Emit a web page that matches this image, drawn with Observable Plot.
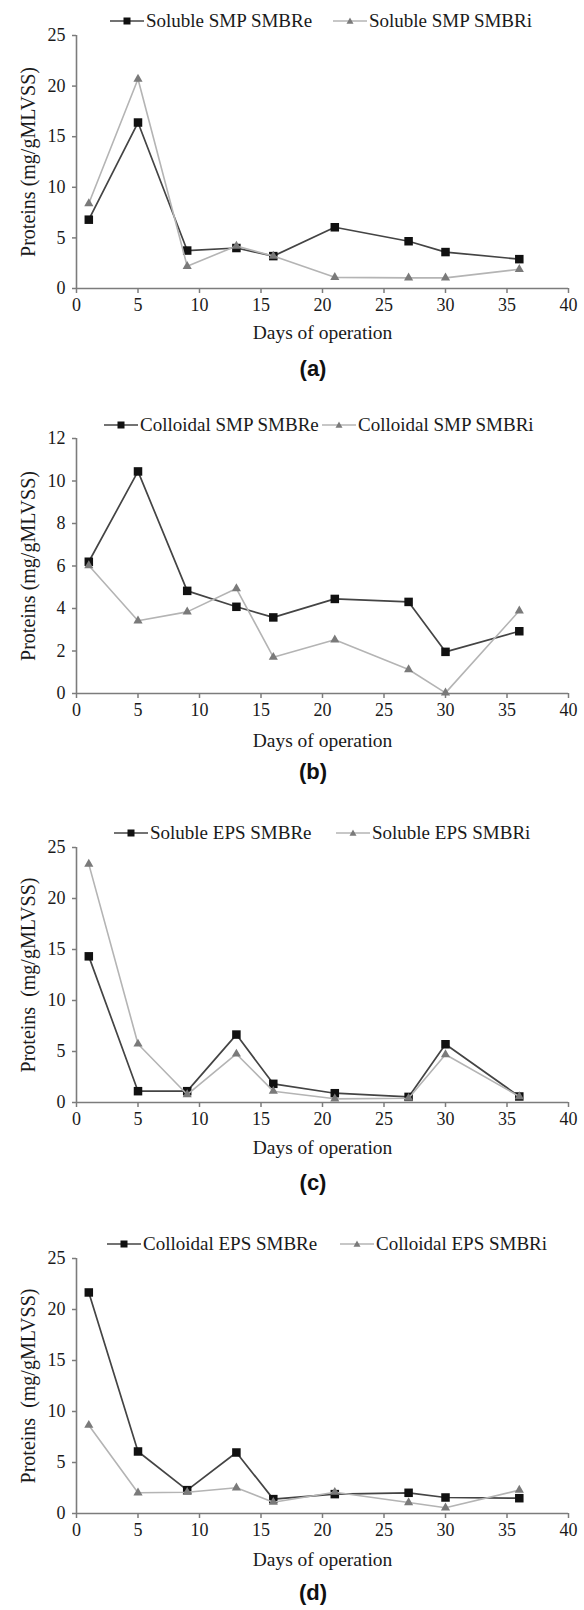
<!DOCTYPE html>
<html><head><meta charset="utf-8">
<script src="https://cdn.jsdelivr.net/npm/d3@7"></script>
<script src="https://cdn.jsdelivr.net/npm/@observablehq/plot@0.6"></script>
<style>
body{margin:0;background:#fff;}
#root{position:relative;width:584px;height:1610px;overflow:hidden;font-family:"Liberation Serif",serif;}
.plotbox{position:absolute;left:0;}
.legend-item{position:absolute;display:flex;align-items:center;font-size:19px;color:#1a1a1a;white-space:nowrap;height:24px;transform:translateY(-50%);}
.legend-item span{margin-left:2px;}
.cap{position:absolute;font-family:"Liberation Sans",Arial,sans-serif;font-weight:bold;font-size:22px;color:#111;transform:translate(-50%,-50%);white-space:nowrap;}
</style></head><body><div id="root"></div>
<script>
// ---- data ----
const days = [1, 5, 9, 13, 16, 21, 27, 30, 36];
const xTicks = [0, 5, 10, 15, 20, 25, 30, 35, 40];

const solubleSMP_SMBRe = [6.8, 16.4, 3.75, 4.0, 3.2, 6.05, 4.67, 3.6, 2.9];
const solubleSMP_SMBRi = [8.4, 20.7, 2.2, 4.2, 3.2, 1.1, 1.05, 1.05, 1.9];
const colloidalSMP_SMBRe = [6.2, 10.45, 4.83, 4.08, 3.58, 4.45, 4.31, 1.96, 2.93];
const colloidalSMP_SMBRi = [6.02, 3.42, 3.84, 4.94, 1.71, 2.53, 1.13, 0.03, 3.89];
const solubleEPS_SMBRe = [14.33, 1.11, 1.11, 6.66, 1.83, 0.91, 0.55, 5.71, 0.59];
const solubleEPS_SMBRi = [23.37, 5.74, 0.78, 4.76, 1.11, 0.36, 0.42, 4.7, 0.59];
const colloidalEPS_SMBRe = [21.67, 6.08, 2.29, 5.98, 1.41, 1.9, 2.03, 1.57, 1.5];
const colloidalEPS_SMBRi = [8.66, 2.03, 2.09, 2.52, 1.11, 2.09, 1.08, 0.56, 2.29];

const yTicks25 = [0, 5, 10, 15, 20, 25];
const yTicks12 = [0, 2, 4, 6, 8, 10, 12];

const panelNames = ["Soluble SMP", "Colloidal SMP", "Soluble EPS", "Colloidal EPS"];
const panelLetters = ["(a)", "(b)", "(c)", "(d)"];
const yLabels = ["Proteins (mg/gMLVSS)", "Proteins (mg/gMLVSS)", "Proteins\u00a0 (mg/gMLVSS)", "Proteins\u00a0 (mg/gMLVSS)"];

// ---- layout (pixels) ----
const layout = [
  {e: solubleSMP_SMBRe, i: solubleSMP_SMBRi, ymax: 25, yt: yTicks25, yTop: 35, yBottom: 288, legY: 21, leg1: 110, leg2: 333, xlo: 50, capY: 369},
  {e: colloidalSMP_SMBRe, i: colloidalSMP_SMBRi, ymax: 12, yt: yTicks12, yTop: 438, yBottom: 693, legY: 425, leg1: 104, leg2: 322, xlo: 53, capY: 772},
  {e: solubleEPS_SMBRe, i: solubleEPS_SMBRi, ymax: 25, yt: yTicks25, yTop: 847, yBottom: 1102, legY: 833, leg1: 114, leg2: 336, xlo: 51, capY: 1183},
  {e: colloidalEPS_SMBRe, i: colloidalEPS_SMBRi, ymax: 25, yt: yTicks25, yTop: 1258, yBottom: 1513, legY: 1244, leg1: 107, leg2: 340, xlo: 52, capY: 1593}
];

const root = document.getElementById("root");
const serif = "Liberation Serif";
const axisGray = "#7c7c7c";
const colE = "#444444", dotE = "#111111";
const colI = "#b4b4b4", dotI = "#7a7a7a";

function swatch(kind) {
  const ns = "http://www.w3.org/2000/svg";
  const s = document.createElementNS(ns, "svg");
  s.setAttribute("width", 34); s.setAttribute("height", 14);
  const l = document.createElementNS(ns, "line");
  l.setAttribute("x1", 0); l.setAttribute("x2", 34); l.setAttribute("y1", 7); l.setAttribute("y2", 7);
  l.setAttribute("stroke", kind === "e" ? colE : colI); l.setAttribute("stroke-width", 1.7);
  s.appendChild(l);
  if (kind === "e") {
    const r = document.createElementNS(ns, "rect");
    r.setAttribute("x", 13.5); r.setAttribute("y", 3.5); r.setAttribute("width", 7); r.setAttribute("height", 7);
    r.setAttribute("fill", dotE); s.appendChild(r);
  } else {
    const p = document.createElementNS(ns, "path");
    p.setAttribute("d", "M17,3.5 L20.5,9.8 L13.5,9.8 Z");
    p.setAttribute("fill", dotI); s.appendChild(p);
  }
  return s;
}

layout.forEach((cfg, k) => {
  const data = days.map((d, j) => ({day: d, e: cfg.e[j], i: cfg.i[j]}));
  const mt = 10, mb = 80;
  const h = (cfg.yBottom - cfg.yTop) + mt + mb;
  const chart = Plot.plot({
    width: 584, height: h,
    marginTop: mt, marginBottom: mb, marginLeft: 76, marginRight: 16,
    style: {fontFamily: serif, fontSize: "18px", color: "#222", background: "transparent", overflow: "visible"},
    x: {domain: [0, 40]},
    y: {domain: [0, cfg.ymax]},
    marks: [
      Plot.axisX(xTicks, {tickSize: 5, tickPadding: 5, stroke: axisGray, strokeWidth: 1.5, fill: "#1a1a1a", fontSize: 18, fontFamily: serif,
        label: "Days of operation", labelAnchor: "center", labelOffset: cfg.xlo, labelArrow: "none"}),
      Plot.axisY(cfg.yt, {tickSize: 4, tickPadding: 7, stroke: axisGray, strokeWidth: 1.5, fill: "#1a1a1a", fontSize: 18, fontFamily: serif,
        label: yLabels[k], labelAnchor: "center", labelOffset: 56, labelArrow: "none"}),
      Plot.ruleY([0], {stroke: axisGray, strokeWidth: 1.6}),
      Plot.ruleX([0], {stroke: axisGray, strokeWidth: 1.6}),
      Plot.lineY(data, {x: "day", y: "e", stroke: colE, strokeWidth: 1.7}),
      Plot.dot(data, {x: "day", y: "e", symbol: "square", r: 4.8, fill: dotE, stroke: "none"}),
      Plot.lineY(data, {x: "day", y: "i", stroke: colI, strokeWidth: 1.6}),
      Plot.dot(data, {x: "day", y: "i", symbol: "triangle", r: 3.4, fill: dotI, stroke: "none"})
    ]
  });
  const xl = chart.querySelector('[aria-label="x-axis label"]');
  if (xl) xl.setAttribute("font-size", 19.5);
  const yl = chart.querySelector('[aria-label="y-axis label"]');
  if (yl) yl.setAttribute("font-size", 20);
  const box = document.createElement("div");
  box.className = "plotbox";
  box.style.top = (cfg.yTop - mt) + "px";
  box.appendChild(chart);
  root.appendChild(box);

  [["e", cfg.leg1, "SMBRe"], ["i", cfg.leg2, "SMBRi"]].forEach(([kind, left, suffix]) => {
    const it = document.createElement("div");
    it.className = "legend-item";
    it.style.left = left + "px";
    it.style.top = cfg.legY + "px";
    it.appendChild(swatch(kind));
    const sp = document.createElement("span");
    sp.textContent = panelNames[k] + " " + suffix;
    it.appendChild(sp);
    root.appendChild(it);
  });

  const cap = document.createElement("div");
  cap.className = "cap";
  cap.style.left = "313px";
  cap.style.top = cfg.capY + "px";
  cap.textContent = panelLetters[k];
  root.appendChild(cap);
});
</script>
</body></html>
